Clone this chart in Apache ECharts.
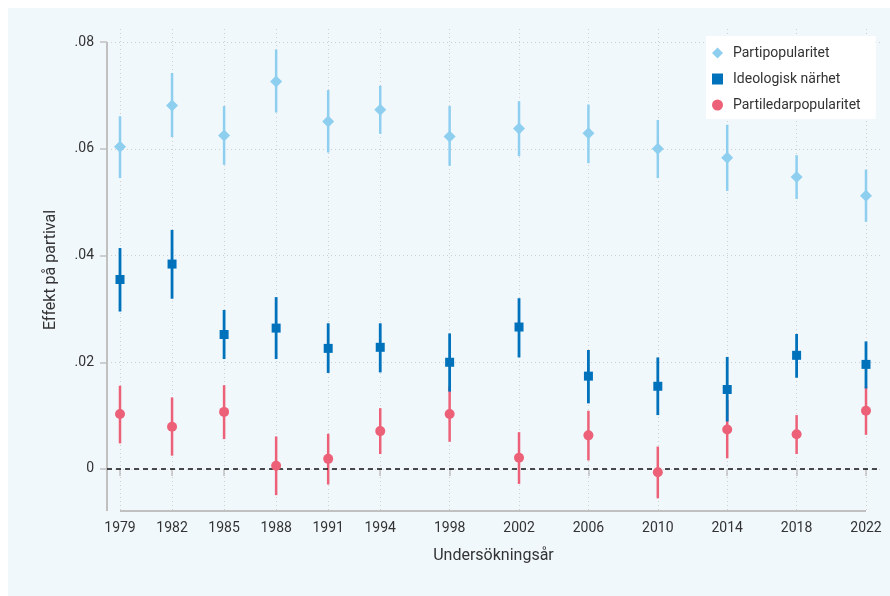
<!DOCTYPE html>
<html>
<head>
<meta charset="utf-8">
<script src="https://cdn.jsdelivr.net/npm/echarts@6/dist/echarts.min.js"></script>
<style>
html,body{margin:0;padding:0;background:#fff;}
#c{width:890px;height:596px;}
</style>
</head>
<body>
<div id="c"></div>
<script>
// ---- data ----
const years = [1979, 1982, 1985, 1988, 1991, 1994, 1998, 2002, 2006, 2010, 2014, 2018, 2022];

const partiEst = [0.0604, 0.0681, 0.0625, 0.0726, 0.0651, 0.0673, 0.0623, 0.0638, 0.0629, 0.0600, 0.0583, 0.0547, 0.0512];
const partiLo  = [0.0545, 0.0622, 0.0570, 0.0668, 0.0593, 0.0628, 0.0568, 0.0586, 0.0573, 0.0545, 0.0521, 0.0506, 0.0463];
const partiHi  = [0.0661, 0.0742, 0.0680, 0.0786, 0.0710, 0.0718, 0.0680, 0.0689, 0.0683, 0.0654, 0.0645, 0.0588, 0.0561];

const ideoEst = [0.0355, 0.0384, 0.0252, 0.0264, 0.0226, 0.0228, 0.0200, 0.0266, 0.0174, 0.0155, 0.0149, 0.0213, 0.0196];
const ideoLo  = [0.0295, 0.0319, 0.0206, 0.0206, 0.0180, 0.0181, 0.0145, 0.0209, 0.0123, 0.0101, 0.0089, 0.0171, 0.0151];
const ideoHi  = [0.0414, 0.0448, 0.0298, 0.0322, 0.0273, 0.0273, 0.0254, 0.0320, 0.0223, 0.0209, 0.0210, 0.0253, 0.0239];

const ledarEst = [0.0103, 0.0079, 0.0107, 0.0006, 0.0019, 0.0071, 0.0103, 0.0021, 0.0063, -0.0006, 0.0074, 0.0065, 0.0109];
const ledarLo  = [0.0048, 0.0025, 0.0056, -0.0049, -0.0029, 0.0028, 0.0051, -0.0028, 0.0016, -0.0055, 0.0020, 0.0028, 0.0064];
const ledarHi  = [0.0156, 0.0134, 0.0157, 0.0061, 0.0066, 0.0114, 0.0155, 0.0069, 0.0109, 0.0042, 0.0129, 0.0101, 0.0155];

const yTicks = [0, 0.02, 0.04, 0.06, 0.08];
const yTickLabels = ['0', '.02', '.04', '.06', '.08'];

const seriesNames = ['Partipopularitet', 'Ideologisk närhet', 'Partiledarpopularitet'];
const xTitle = 'Undersökningsår';
const yTitle = 'Effekt på partival';

// ---- styling / layout ----
const colParti = '#8ecff0';
const colIdeo = '#0072bb';
const colLedar = '#ec6178';
const xMin = 1978.2507, xMax = 2022.807;
const yMin = -0.00787, yMax = 0.08244;
const axisGray = '#c0c0c0';
const gridGray = '#cfcfcf';
const textCol = '#333333';
const FONT = 'Roboto, "Liberation Sans", sans-serif';

function whisker(name, color, width, lo, hi, z) {
  return {
    name: name,
    type: 'custom',
    silent: true,
    z: z,
    clip: false,
    data: years.map((y, i) => [y, lo[i], hi[i]]),
    encode: { x: 0, y: [1, 2] },
    renderItem: function (params, api) {
      const a = api.coord([api.value(0), api.value(1)]);
      const b = api.coord([api.value(0), api.value(2)]);
      return {
        type: 'line',
        shape: { x1: a[0], y1: a[1], x2: b[0], y2: b[1] },
        style: { stroke: color, lineWidth: width }
      };
    }
  };
}

function markers(name, color, symbol, size, est) {
  return {
    name: name,
    type: 'scatter',
    symbol: symbol,
    symbolSize: size,
    z: 5,
    silent: true,
    itemStyle: { color: color, opacity: 1 },
    data: years.map((y, i) => [y, est[i]])
  };
}

const chart = echarts.init(document.getElementById('c'), null, { renderer: 'canvas' });

const option = {
  animation: false,
  textStyle: { fontFamily: FONT },
  graphic: [{
    type: 'rect',
    z: -100,
    silent: true,
    shape: { x: 8, y: 8, width: 882, height: 588 },
    style: { fill: '#f1f8fc' }
  }],
  grid: { left: 107, right: 10, top: 29, bottom: 85, containLabel: false },
  legend: {
    data: seriesNames,
    orient: 'vertical',
    left: 706,
    top: 36,
    backgroundColor: '#ffffff',
    padding: [10, 15, 7, 6],
    itemWidth: 11,
    itemHeight: 11,
    itemGap: 12,
    selectedMode: false,
    textStyle: { fontSize: 14, color: textCol, fontFamily: FONT, lineHeight: 14, padding: [0, 0, 0, 5] }
  },
  xAxis: {
    type: 'value',
    min: xMin,
    max: xMax,
    name: xTitle,
    nameLocation: 'middle',
    nameGap: 37,
    nameTextStyle: { fontSize: 16, color: textCol, fontFamily: FONT },
    axisLine: { show: false },
    axisTick: { show: true, length: 7, customValues: years, lineStyle: { color: axisGray, width: 1.5 } },
    axisLabel: { customValues: years, margin: 10, fontSize: 14, color: textCol, fontFamily: FONT,
      formatter: v => String(Math.round(v)) },
    splitLine: { show: true, lineStyle: { color: gridGray, width: 1, type: [1, 3] } }
  },
  yAxis: {
    type: 'value',
    min: yMin,
    max: yMax,
    name: yTitle,
    nameLocation: 'middle',
    nameGap: 48,
    nameTextStyle: { fontSize: 16, color: textCol, fontFamily: FONT },
    axisLine: { show: false },
    axisTick: { show: true, length: 7, customValues: yTicks, lineStyle: { color: axisGray, width: 1.5 } },
    axisLabel: { customValues: yTicks, margin: 13, fontSize: 14, color: textCol, fontFamily: FONT,
      formatter: function (v) {
        for (let i = 0; i < yTicks.length; i++) {
          if (Math.abs(v - yTicks[i]) < 1e-9) return yTickLabels[i];
        }
        return '';
      } },
    splitLine: { show: true, lineStyle: { color: gridGray, width: 1, type: [1, 3] } }
  },
  series: [
    {
      name: 'axes',
      type: 'line',
      data: [],
      silent: true,
      z: 1,
      markLine: {
        silent: true,
        symbol: ['none', 'none'],
        label: { show: false },
        animation: false,
        data: [
          [{ coord: [xMin, yMin], lineStyle: { color: axisGray, width: 2, type: 'solid' } },
           { coord: [xMin, yTicks[yTicks.length - 1]] }],
          [{ coord: [years[0], yMin], lineStyle: { color: axisGray, width: 2, type: 'solid' } },
           { coord: [years[years.length - 1], yMin] }],
          [{ coord: [xMin, 0], lineStyle: { color: '#111111', width: 1.5, type: [5, 4] } },
           { coord: [xMax, 0] }]
        ]
      }
    },
    whisker('w3', colLedar, 2.5, ledarLo, ledarHi, 2),
    whisker('w2', colIdeo, 2.8, ideoLo, ideoHi, 3),
    whisker('w1', colParti, 2.5, partiLo, partiHi, 3),
    markers(seriesNames[0], colParti, 'diamond', 12, partiEst),
    markers(seriesNames[1], colIdeo, 'rect', 9, ideoEst),
    markers(seriesNames[2], colLedar, 'circle', 10, ledarEst)
  ]
};

chart.setOption(option);
</script>
</body>
</html>
